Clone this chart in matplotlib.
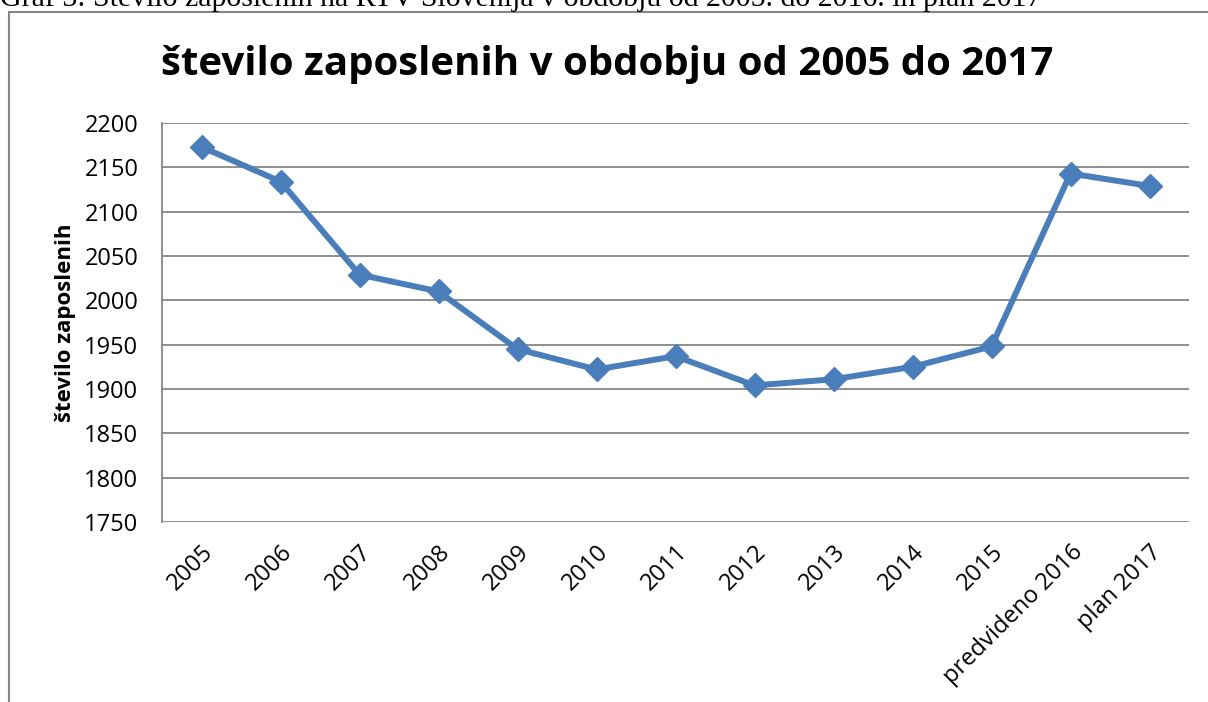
import numpy as np
import matplotlib.pyplot as plt
from matplotlib.patches import Rectangle

categories = ['2005', '2006', '2007', '2008', '2009', '2010', '2011', '2012',
              '2013', '2014', '2015', 'predvideno 2016', 'plan 2017']
employees = [2173, 2134, 2029, 2010, 1945, 1922, 1937, 1904, 1911, 1925, 1948, 2143, 2129]

W, H = 1208, 702
fig = plt.figure(figsize=(W / 100, H / 100), dpi=100)

# plot area in pixels (left, top, right, bottom)
L, T, R, B = 162, 123, 1189, 522
ax = fig.add_axes([L / W, 1 - B / H, (R - L) / W, (B - T) / H])

x = np.arange(len(categories))
ax.plot(x, employees, color='#4A7EBB', lw=4.3, marker='D', ms=12,
        markerfacecolor='#4A7EBB', markeredgecolor='#4A7EBB', zorder=3)

ax.set_xlim(-0.5, len(categories) - 0.5)
ax.set_ylim(1750, 2200)
ax.set_yticks(np.arange(1750, 2201, 50))
ax.yaxis.grid(True, color='#868686', lw=1.3)
ax.set_axisbelow(True)
for s in ['top', 'right', 'bottom']:
    ax.spines[s].set_visible(False)
ax.spines['left'].set_color('#868686')
ax.spines['left'].set_linewidth(1.3)
ax.tick_params(axis='y', length=0, labelsize=17, pad=17)
ax.tick_params(axis='x', length=0, labelsize=17, pad=13)
ax.set_xticks(x)
ax.set_xticklabels(categories, rotation=45, ha='right', rotation_mode='anchor')
for lab in ax.get_yticklabels() + ax.get_xticklabels():
    lab.set_fontfamily('Open Sans')

ax.set_ylabel('število zaposlenih', fontsize=16, fontweight='bold',
              fontfamily='Open Sans', labelpad=6)

fig.text(607 / W, 1 - 64 / H, 'število zaposlenih v obdobju od 2005 do 2017',
         ha='center', va='center', fontsize=29, fontweight='bold',
         fontfamily='Open Sans')

# outer chart frame
fig.patches.append(Rectangle((9 / W, -0.05), 1.2, 1 - 12 / H + 0.05,
                             transform=fig.transFigure, fill=False,
                             edgecolor='#868686', lw=1.5))

# caption partly cut at the top
fig.text(0, 1 - 6 / H, 'Graf 3: Število zaposlenih na RTV Slovenija v obdobju od 2005. do 2016. in plan 2017',
         ha='left', va='baseline', fontsize=21.5, fontfamily='Liberation Serif')

fig.savefig('out.png', dpi=100)
